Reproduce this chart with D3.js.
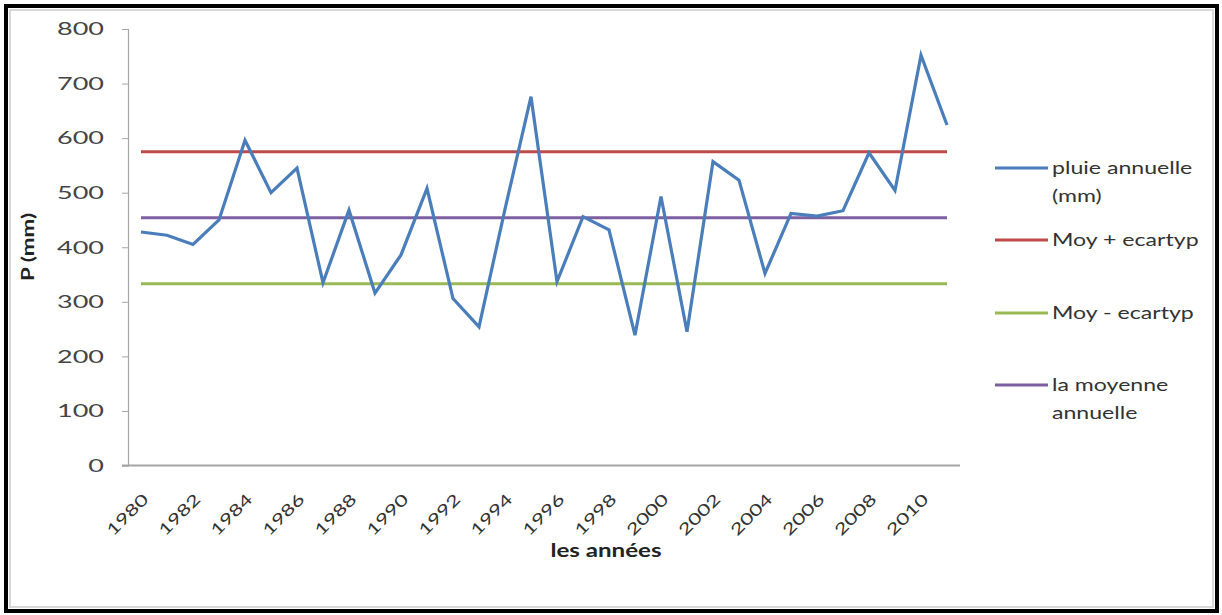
<!DOCTYPE html>
<html>
<head>
<meta charset="utf-8">
<script src="https://cdn.jsdelivr.net/npm/d3@7"></script>
<style>
  html, body { margin: 0; padding: 0; background: #fff; }
  svg { display: block; font-family: Lato, "Open Sans", sans-serif; }
</style>
</head>
<body>
<svg id="chart" width="1222" height="615"></svg>
<script>
// Annual rainfall series (mm), 1980–2011
const years = d3.range(1980, 2012);
const rainfall = [428, 422, 405, 450, 596, 500, 545, 335, 468, 316,
                  386, 508, 306, 254, 470, 676, 337, 456, 432, 239,
                  493, 245, 557, 523, 352, 462, 457, 467, 573, 504,
                  752, 624];

// Reference levels: mean, mean + std dev, mean − std dev
const meanLevel = 454;
const upperLevel = 575;
const lowerLevel = 333;

const yTicks = [0, 100, 200, 300, 400, 500, 600, 700, 800];
const xTickYears = years.filter(y => y % 2 === 0);

const seriesNames = ["pluie annuelle (mm)", "Moy + ecartyp", "Moy - ecartyp", "la moyenne annuelle"];
const seriesColors = ["#4a7ebb", "#be4b48", "#98b954", "#7d60a0"];

// Wide lettering: glyphs are stretched along their baseline
const SX = 1.32;
const SX_NUM = 1.5;

const svg = d3.select("#chart");

// Outer frame
svg.append("rect").attr("x", 6).attr("y", 6).attr("width", 1211).attr("height", 605)
  .attr("fill", "#fff").attr("stroke", "#000").attr("stroke-width", 4);
svg.append("rect").attr("x", 10).attr("y", 10).attr("width", 1203).attr("height", 597)
  .attr("fill", "none").attr("stroke", "#d8d8d8").attr("stroke-width", 2);

const plot = { left: 128, right: 960, top: 29, bottom: 465.5 };

const x = d3.scalePoint().domain(years).range([plot.left, plot.right]).padding(0.5);
const y = d3.scaleLinear().domain([0, 800]).range([plot.bottom, plot.top]);

// Y axis
const yAxis = svg.append("g").attr("transform", `translate(${plot.left},0)`)
  .call(d3.axisLeft(y).tickValues(yTicks).tickSize(6).tickPadding(18));
yAxis.select(".domain").attr("stroke", "#a6a6a6").attr("stroke-width", 1.2);
yAxis.selectAll(".tick line").attr("stroke", "#a6a6a6");
yAxis.selectAll(".tick text")
  .attr("fill", "#444").attr("font-size", 18)
  .attr("font-family", "Lato, sans-serif")
  .each(function () {
    const tx = +this.getAttribute("x");
    d3.select(this).attr("x", 0).attr("transform", `translate(${tx},0) scale(${SX_NUM},1)`);
  });

// X axis
const xAxis = svg.append("g").attr("transform", `translate(0,${plot.bottom})`)
  .call(d3.axisBottom(x).tickValues(xTickYears).tickSize(0).tickFormat(d3.format("d")));
xAxis.select(".domain").attr("d", `M${plot.left - 6},0H${plot.right}`)
  .attr("stroke", "#a6a6a6").attr("stroke-width", 2);
xAxis.selectAll(".tick text")
  .attr("fill", "#333").attr("font-size", 16)
  .attr("font-family", "Lato, sans-serif")
  .attr("text-anchor", "end")
  .attr("x", 0).attr("y", 0)
  .attr("transform", `translate(4,31) rotate(-45) scale(1.38,1)`)
  .attr("dy", "0.35em");

// Axis titles
svg.append("text").attr("transform", `translate(34,247) rotate(-90) scale(${SX},1)`)
  .attr("text-anchor", "middle").attr("font-weight", "bold").attr("font-size", 17)
  .attr("fill", "#222").text("P (mm)");
svg.append("text").attr("transform", `translate(606,557) scale(1.27,1)`)
  .attr("text-anchor", "middle").attr("font-weight", "bold").attr("font-size", 19)
  .attr("fill", "#222").text("les années");

// Horizontal reference lines across the series range
const xFirst = x(years[0]);
const xLast = x(years[years.length - 1]);
const levels = [
  { v: upperLevel, c: seriesColors[1] },
  { v: lowerLevel, c: seriesColors[2] },
  { v: meanLevel, c: seriesColors[3] }
];
svg.append("g").selectAll("line").data(levels).join("line")
  .attr("x1", xFirst).attr("x2", xLast)
  .attr("y1", d => y(d.v)).attr("y2", d => y(d.v))
  .attr("stroke", d => d.c).attr("stroke-width", 3);

// Rainfall line
const line = d3.line().x((d, i) => x(years[i])).y(d => y(d));
svg.append("path").datum(rainfall)
  .attr("d", line).attr("fill", "none")
  .attr("stroke", seriesColors[0]).attr("stroke-width", 3.2)
  .attr("stroke-linejoin", "miter");

// Legend
const legendRows = [
  { lines: ["pluie annuelle", "(mm)"], y: 168 },
  { lines: ["Moy + ecartyp"], y: 240 },
  { lines: ["Moy - ecartyp"], y: 313 },
  { lines: ["la moyenne", "annuelle"], y: 385 }
];
const leg = svg.append("g");
legendRows.forEach((r, i) => {
  leg.append("line").attr("x1", 995).attr("x2", 1048)
    .attr("y1", r.y).attr("y2", r.y)
    .attr("stroke", seriesColors[i]).attr("stroke-width", 3);
  const t = leg.append("text")
    .attr("transform", `translate(1052,${r.y}) scale(${SX},1)`)
    .attr("font-size", 17.5).attr("fill", "#333");
  r.lines.forEach((s, j) => {
    t.append("tspan").attr("x", 0).attr("dy", j === 0 ? "0.35em" : "1.6em").text(s);
  });
});
</script>
</body>
</html>
